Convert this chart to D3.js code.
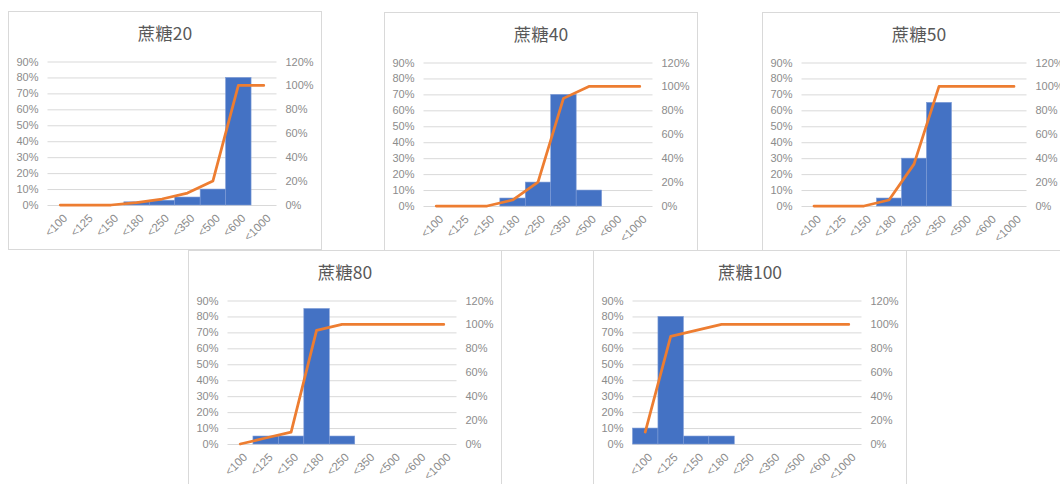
<!DOCTYPE html>
<html>
<head>
<meta charset="utf-8">
<script src="https://cdn.jsdelivr.net/npm/d3@7/dist/d3.min.js"></script>
<style>
  html, body { margin: 0; padding: 0; background: #ffffff; }
  svg { display: block; }
</style>
</head>
<body>
<svg id="chart" width="1060" height="484"></svg>
<script>
// ---- data ----
const categories = ["<100", "<125", "<150", "<180", "<250", "<350", "<500", "<600", "<1000"];
const titles = ["蔗糖20", "蔗糖40", "蔗糖50", "蔗糖80", "蔗糖100"];
const freq20  = [0, 0, 0, 0.02, 0.03, 0.05, 0.10, 0.80, 0];
const cum20   = [0, 0, 0, 0.02, 0.05, 0.10, 0.20, 1.00, 1.00];
const freq40  = [0, 0, 0, 0.05, 0.15, 0.70, 0.10, 0, 0];
const cum40   = [0, 0, 0, 0.05, 0.20, 0.90, 1.00, 1.00, 1.00];
const freq50  = [0, 0, 0, 0.05, 0.30, 0.65, 0, 0, 0];
const cum50   = [0, 0, 0, 0.05, 0.35, 1.00, 1.00, 1.00, 1.00];
const freq80  = [0, 0.05, 0.05, 0.85, 0.05, 0, 0, 0, 0];
const cum80   = [0, 0.05, 0.10, 0.95, 1.00, 1.00, 1.00, 1.00, 1.00];
const freq100 = [0.10, 0.80, 0.05, 0.05, 0, 0, 0, 0, 0];
const cum100  = [0.10, 0.90, 0.95, 1.00, 1.00, 1.00, 1.00, 1.00, 1.00];
const leftTicks  = [0, 0.1, 0.2, 0.3, 0.4, 0.5, 0.6, 0.7, 0.8, 0.9];
const rightTicks = [0, 0.2, 0.4, 0.6, 0.8, 1.0, 1.2];

const seriesFreq = [freq20, freq40, freq50, freq80, freq100];
const seriesCum  = [cum20, cum40, cum50, cum80, cum100];

// ---- layout ----
const frames = [
  {x: 8.5,   y: 11.5, pw: 229},
  {x: 384.5, y: 12.5, pw: 229},
  {x: 762.5, y: 12.5, pw: 225},
  {x: 188.5, y: 250.5, pw: 229},
  {x: 593.5, y: 250.5, pw: 229}
];
const FW = 313, FH = 238;
const PL = 39, PT = 50, PB = 193.5;
const FONT = "'Liberation Sans', Arial, sans-serif";
const LABEL = "#8c8c8c";

const svg = d3.select("#chart");
const fmt = d3.format(".0%");

frames.forEach((f, k) => {
  const PW = f.pw;
  const g = svg.append("g").attr("transform", `translate(${f.x},${f.y})`);
  g.append("rect").attr("width", FW).attr("height", FH)
    .attr("fill", "#ffffff").attr("stroke", "#d9d9d9").attr("stroke-width", 1);

  const x = d3.scaleBand().domain(categories).range([PL, PL + PW]).padding(0);
  const yL = d3.scaleLinear().domain([0, 0.9]).range([PB, PT]);
  const yR = d3.scaleLinear().domain([0, 1.2]).range([PB, PT]);

  // title
  g.append("text").attr("x", FW / 2).attr("y", 28)
    .attr("text-anchor", "middle")
    .attr("font-family", "'Noto Sans CJK SC', 'Liberation Sans', sans-serif")
    .attr("font-size", 17.5).attr("fill", "#595959")
    .text(titles[k]);

  // gridlines
  const grid = d3.axisLeft(yL).tickValues(leftTicks).tickSize(-PW).tickFormat("");
  const gg = g.append("g").attr("transform", `translate(${PL},0)`).call(grid);
  gg.select(".domain").remove();
  gg.selectAll("line").attr("stroke", "#d9d9d9").attr("stroke-width", 1);

  // left axis labels
  const la = d3.axisLeft(yL).tickValues(leftTicks).tickSize(0).tickPadding(9).tickFormat(fmt);
  const lg = g.append("g").attr("transform", `translate(${PL},0)`).call(la);
  lg.select(".domain").remove();
  lg.selectAll("text").attr("fill", LABEL).attr("font-size", 11).attr("font-family", FONT);

  // right axis labels
  const ra = d3.axisRight(yR).tickValues(rightTicks).tickSize(0).tickPadding(9).tickFormat(fmt);
  const rg = g.append("g").attr("transform", `translate(${PL + PW},0)`).call(ra);
  rg.select(".domain").remove();
  rg.selectAll("text").attr("fill", LABEL).attr("font-size", 11).attr("font-family", FONT);

  // bars
  const freq = seriesFreq[k];
  g.append("g").selectAll("rect").data(categories).join("rect")
    .attr("x", d => x(d))
    .attr("width", x.bandwidth())
    .attr("y", (d, i) => yL(freq[i]))
    .attr("height", (d, i) => PB - yL(freq[i]))
    .attr("fill", "#4472C4")
    .attr("stroke", "#7d9bd6").attr("stroke-width", (d, i) => freq[i] > 0 ? 0.6 : 0);

  // cumulative line
  const cum = seriesCum[k];
  const line = d3.line()
    .x((d, i) => x(categories[i]) + x.bandwidth() / 2)
    .y(d => yR(d));
  g.append("path").datum(cum).attr("d", line)
    .attr("fill", "none").attr("stroke", "#ED7D31")
    .attr("stroke-width", 2.75).attr("stroke-linejoin", "round").attr("stroke-linecap", "round");

  // x labels rotated
  const xa = d3.axisBottom(x).tickSize(0).tickPadding(0);
  const xg = g.append("g").attr("transform", `translate(0,${PB})`).call(xa);
  xg.select(".domain").remove();
  xg.selectAll("text")
    .attr("fill", LABEL).attr("font-size", 11.5).attr("font-family", FONT)
    .attr("text-anchor", "end")
    .attr("y", null)
    .attr("transform", "translate(5,11) rotate(-45)")
    .attr("dy", "0.35em");
});
</script>
</body>
</html>
